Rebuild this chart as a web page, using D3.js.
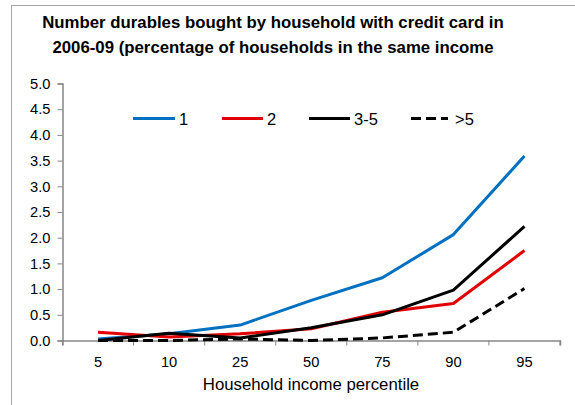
<!DOCTYPE html>
<html><head><meta charset="utf-8">
<script src="https://cdn.jsdelivr.net/npm/d3@7"></script>
<style>html,body{margin:0;padding:0;background:#fff;}svg{display:block;font-family:Arial,"Liberation Sans",sans-serif;}</style>
</head><body>
<script>
const categories = ["5","10","25","50","75","90","95"];
const seriesNames = ["1","2","3-5",">5"];
const s1 = [0.03,0.13,0.30,0.78,1.22,2.06,3.59];
const s2 = [0.16,0.07,0.13,0.23,0.55,0.72,1.75];
const s35 = [0.00,0.14,0.05,0.25,0.50,0.98,2.22];
const s5 = [0.00,0.00,0.03,0.00,0.05,0.16,1.01];
const yTicks = [0,0.5,1,1.5,2,2.5,3,3.5,4,4.5,5];
const titleLines = ["Number durables bought by household with credit card in","2006-09 (percentage of households in the same income"];
const xTitle = "Household income percentile";

const W=575,H=405;
const svg=d3.select("body").append("svg").attr("width",W).attr("height",H);
svg.append("rect").attr("x",11.5).attr("y",5.5).attr("width",W).attr("height",H).attr("fill","#fff").attr("stroke","#a6a6a6").attr("stroke-width",1);

const x=d3.scaleBand().domain(categories).range([62.5,560]).paddingInner(0).paddingOuter(0);
const y=d3.scaleLinear().domain([0,5]).range([340.5,83.5]);

const title=svg.append("text").attr("text-anchor","middle").attr("font-weight","bold").attr("font-size",16.8).attr("fill","#000");
titleLines.forEach((t,i)=>title.append("tspan").attr("x",273).attr("y",28+i*25).text(t));

const gy=svg.append("g").attr("transform","translate(62.5,0)").call(d3.axisLeft(y).tickValues(yTicks).tickFormat(d3.format(".1f")).tickSize(5).tickPadding(7));
const gx=svg.append("g").attr("transform","translate(0,340.5)").call(d3.axisBottom(x).tickSize(5).tickPadding(11));
gx.selectAll(".tick line").remove();
const bounds=categories.map(c=>x(c)).concat([x(categories[categories.length-1])+x.bandwidth()]);
gx.selectAll(".bline").data(bounds).enter().append("line").attr("x1",d=>d).attr("x2",d=>d).attr("y1",0).attr("y2",5).attr("stroke","#868686");
[gx,gy].forEach(g=>{g.select(".domain").attr("stroke","#868686").attr("stroke-width",1.5);g.selectAll("line").attr("stroke","#868686");g.selectAll("text").attr("font-size",14.7).attr("fill","#000").attr("font-family","Arial,'Liberation Sans',sans-serif");});

svg.append("text").attr("x",311).attr("y",390).attr("text-anchor","middle").attr("font-size",16.8).attr("fill","#000").text(xTitle);

const series=[
 {name:seriesNames[0],vals:s1,color:"#0070C0",dash:null},
 {name:seriesNames[1],vals:s2,color:"#E30000",dash:null},
 {name:seriesNames[2],vals:s35,color:"#000",dash:null},
 {name:seriesNames[3],vals:s5,color:"#000",dash:"10,5"}];
const line=d3.line().x((d,i)=>x(categories[i])+x.bandwidth()/2).y(d=>y(d));
series.forEach(s=>{
 svg.append("path").datum(s.vals).attr("d",line).attr("fill","none").attr("stroke",s.color).attr("stroke-width",3).attr("stroke-dasharray",s.dash).attr("stroke-linejoin","round");
});

const legX=[133,222,309,411], legLen=[42,41,41,37];
series.forEach((s,i)=>{
 svg.append("line").attr("x1",legX[i]).attr("x2",legX[i]+legLen[i]).attr("y1",118.5).attr("y2",118.5).attr("stroke",s.color).attr("stroke-width",3).attr("stroke-dasharray",s.dash);
 svg.append("text").attr("x",legX[i]+legLen[i]+(i==3?7:4)).attr("y",125).attr("font-size",16.5).attr("fill","#000").text(s.name);
});
</script>
</body></html>
